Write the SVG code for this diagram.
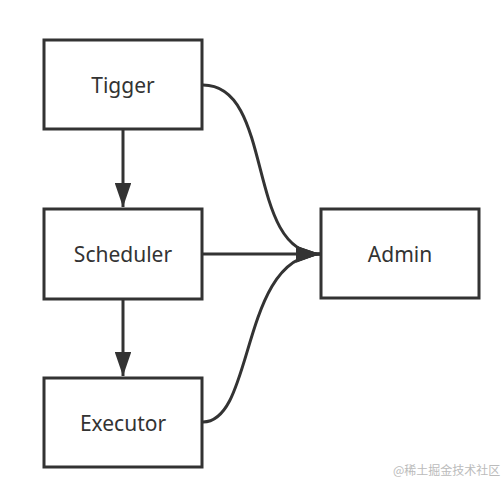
<svg xmlns="http://www.w3.org/2000/svg" width="501" height="491" viewBox="0 0 501 491">
<defs>
<style>
.box{fill:#fff;stroke:#333;stroke-width:3}
.lbl{font-family:"Noto Sans","Open Sans",sans-serif;font-size:21px;fill:#333;text-anchor:middle;dominant-baseline:central}
.edge{fill:none;stroke:#333;stroke-width:3}
.wm{font-family:"Noto Sans CJK SC",sans-serif;font-size:12px;fill:#bbb}
</style>
<marker id="arr" markerWidth="8" markerHeight="5.5" refX="8" refY="2.75" orient="auto" markerUnits="strokeWidth">
<path d="M0,0 L8,2.75 L0,5.5 Z" fill="#333"/>
</marker>
</defs>
<rect width="501" height="491" fill="#fff"/>
<g id="connectors">
<path class="edge" d="M123,129 V207" marker-end="url(#arr)"/>
<path class="edge" d="M123,299 V376" marker-end="url(#arr)"/>
<path class="edge" d="M203,85 C275,85 245,254 320,254" marker-end="url(#arr)"/>
<path class="edge" d="M203,254 H320" marker-end="url(#arr)"/>
<path class="edge" d="M203,422 C255,422 240,256 320,254" marker-end="url(#arr)"/>
</g>
<g id="tigger"><rect class="box" x="44" y="40" width="158" height="89"/><text class="lbl" x="123" y="85">Tigger</text></g>
<g id="scheduler"><rect class="box" x="44" y="209" width="158" height="90"/><text class="lbl" x="123" y="254">Scheduler</text></g>
<g id="executor"><rect class="box" x="44" y="378" width="158" height="89"/><text class="lbl" x="123" y="423">Executor</text></g>
<g id="admin"><rect class="box" x="321" y="209" width="158" height="89"/><text class="lbl" x="400" y="254">Admin</text></g>
<text class="wm" x="393" y="475">@稀土掘金技术社区</text>
</svg>
